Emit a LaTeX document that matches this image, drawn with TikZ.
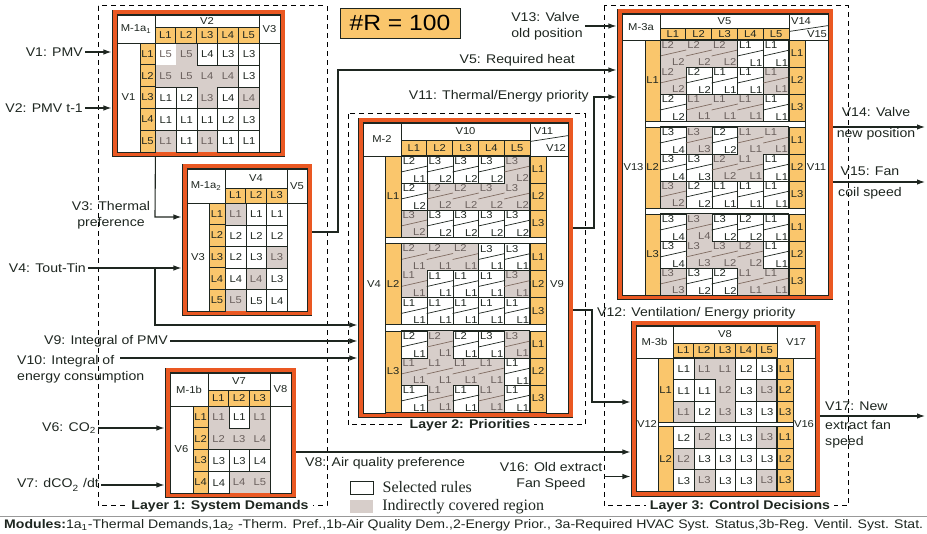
\documentclass[tikz,border=0pt]{standalone}
\usepackage{fontspec}
\setmainfont{Liberation Sans}[FakeStretch=1.12]
\newfontfamily\legendfont{Liberation Serif}
\usepackage{graphicx}
\usetikzlibrary{arrows.meta,positioning}

\pgfdeclarelayer{back}
\pgfdeclarelayer{frame}
\pgfdeclarelayer{cov}
\pgfsetlayers{back,frame,cov,main}

\definecolor{dk}{RGB}{30,38,32}
\definecolor{frameorg}{RGB}{234,88,34}
\definecolor{lvlorg}{RGB}{250,198,108}
\definecolor{covgray}{RGB}{215,206,202}
\definecolor{dimtxt}{RGB}{105,95,92}
\definecolor{covln}{RGB}{128,108,98}

\newcommand{\cellfont}{\fontsize{10}{11}\selectfont}
\newcommand{\labfont}{\fontsize{12.6}{16}\selectfont}

\newcommand{\boxat}[7]{%
  \node[#6, minimum width={(#4-(#2))*1pt}, minimum height={(#5-(#3))*1pt}]
    (#1) at ({(#2+#4)/2},{(#3+#5)/2}) {#7};}

\newcommand{\gcell}[7]{%
  \if#6c\begin{pgfonlayer}{cov}\fill[covgray] ({#2},{#3}) rectangle ++(#4,#5);\end{pgfonlayer}\fi
  \if#6s\node[selcell, minimum width=#4pt, minimum height=#5pt, anchor=north west] (#1) at ({#2},{#3}) {#7};%
  \else\node[dimcell, minimum width=#4pt, minimum height=#5pt, anchor=north west] (#1) at ({#2},{#3}) {#7};\fi}

\newcommand{\pcell}[6]{%
  \if#4c\begin{pgfonlayer}{cov}\fill[covgray] ({#2},{#3}) rectangle ++(25.8,27);\end{pgfonlayer}%
    \tikzset{pc/.style={dimcell}, pcd/.style={covdiag}}%
  \else\tikzset{pc/.style={selcell}, pcd/.style={seldiag}}\fi
  \node[pc, minimum width=25.8pt, minimum height=27pt, anchor=north west] (#1) at ({#2},{#3}) {};
  \draw[pcd] ([yshift=-16pt]#1.north west) -- ([yshift=-10pt]#1.north east);
  \node[pc, draw=none, fill=none, anchor=north west, inner sep=1.3pt] (#1u) at (#1.north west) {#5};
  \node[pc, draw=none, fill=none, anchor=south east, inner sep=1.3pt] (#1d) at (#1.south east) {#6};}

\begin{document}
\begin{tikzpicture}[x=1pt, y=-1pt,
  hdr/.style={draw=dk, fill=white, line width=0.9pt, inner sep=0pt, font=\cellfont, text=dk},
  lvl/.style={hdr, fill=lvlorg},
  selcell/.style={hdr},
  dimcell/.style={inner sep=0pt, font=\cellfont, text=dimtxt},
  seldiag/.style={draw=dk, line width=0.7pt},
  covdiag/.style={draw=covln, line width=0.7pt},
  grp/.style={draw=dk, line width=0.9pt},
  modframe/.style={draw=dk, line width=0.7pt, double=frameorg, double distance=4pt, fill=white, inner sep=0pt},
  layerbox/.style={draw=black, line width=1pt, dash pattern=on 5pt off 4pt},
  layerlbl/.style={fill=white, font=\bfseries\labfont, text=dk, inner xsep=4pt, inner ysep=0.5pt},
  lab/.style={font=\labfont, text=dk, inner sep=2pt},
  legtext/.style={font=\legendfont\fontsize{16}{18}\selectfont, text=dk, inner sep=2pt},
  rbox/.style={draw=dk, fill=lvlorg, line width=0.9pt, minimum width=120pt, minimum height=30pt,
               font=\fontsize{22}{24}\selectfont},
  arr/.style={draw=dk, line width=1.1pt, -{Latex[length=8pt, width=5.5pt]}},
  into/.style={shorten >=2.7pt}
]
\useasboundingbox (0,0) rectangle (927,534);

\begin{pgfonlayer}{frame}
  \node[modframe, minimum width=168pt, minimum height=142pt] (m1a1) at (198.5,83.5) {};
  \node[modframe, minimum width=125pt, minimum height=147pt] (m1a2) at (247,240) {};
  \node[modframe, minimum width=126pt, minimum height=125pt] (m1b) at (230.5,433) {};
  \node[modframe, minimum width=210pt, minimum height=295pt] (m2) at (465.5,268) {};
  \node[modframe, minimum width=211pt, minimum height=286pt] (m3a) at (725,154.5) {};
  \node[modframe, minimum width=184pt, minimum height=171pt] (m3b) at (725.5,409) {};
\end{pgfonlayer}

% M-1a1
\boxat{a1id}{117}{15}{155}{43}{hdr}{M-1a\textsubscript{1}}
\boxat{a1v2}{155}{15}{259}{27}{hdr}{V2}
\boxat{a1v3}{259}{15}{280}{43}{hdr}{V3}
\boxat{a1v1}{117}{43}{140}{152}{hdr}{V1}
\boxat{a1rt}{259}{43}{280}{152}{hdr}{}
\foreach \k in {1,...,5} {
  \boxat{a1h\k}{155+20.8*(\k-1)}{27}{155+20.8*\k}{43}{lvl}{L\k}
  \boxat{a1l\k}{140}{43+21.8*(\k-1)}{155}{43+21.8*\k}{lvl}{L\k}
}
\foreach \row [count=\r] in {{p/L5,c/L5,s/L4,s/L3,s/L3},{c/L5,c/L5,c/L4,c/L4,s/L3},
    {s/L1,s/L2,c/L3,s/L4,c/L4},{s/L1,s/L1,s/L1,s/L2,s/L3},{c/L1,s/L1,c/L1,s/L1,s/L1}} {
  \foreach \ty/\txt [count=\k] in \row {
    \gcell{a1c\r\k}{155+20.8*(\k-1)}{43+21.8*(\r-1)}{20.8}{21.8}{\ty}{\txt}
  }
}

% M-1a2
\boxat{a2id}{187}{169}{225}{203}{hdr}{M-1a\textsubscript{2}}
\boxat{a2v4}{225}{169}{287}{188}{hdr}{V4}
\boxat{a2v5}{287}{169}{307}{203}{hdr}{V5}
\boxat{a2v3}{187}{203}{209}{311}{hdr}{V3}
\boxat{a2rt}{287}{203}{307}{311}{hdr}{}
\foreach \k in {1,2,3} {\boxat{a2h\k}{225+20.67*(\k-1)}{188}{225+20.67*\k}{203}{lvl}{L\k}}
\foreach \k in {1,...,5} {\boxat{a2l\k}{209}{203+21.6*(\k-1)}{225}{203+21.6*\k}{lvl}{L\k}}
\foreach \row [count=\r] in {{c/L1,s/L1,s/L1},{s/L2,s/L2,s/L2},{s/L2,s/L3,c/L3},
    {s/L4,c/L4,s/L3},{c/L5,s/L5,s/L4}} {
  \foreach \ty/\txt [count=\k] in \row {
    \gcell{a2c\r\k}{225+20.67*(\k-1)}{203+21.6*(\r-1)}{20.67}{21.6}{\ty}{\txt}
  }
}

% M-1b
\boxat{bid}{170}{373}{208}{406}{hdr}{M-1b}
\boxat{bv7}{208}{373}{270}{390}{hdr}{V7}
\boxat{bv8}{270}{373}{291}{406}{hdr}{V8}
\boxat{bv6}{170}{406}{193}{493}{hdr}{V6}
\boxat{brt}{270}{406}{291}{493}{hdr}{}
\foreach \k in {1,2,3} {\boxat{bh\k}{208+20.67*(\k-1)}{390}{208+20.67*\k}{406}{lvl}{L\k}}
\foreach \k in {1,...,4} {\boxat{bl\k}{193}{406+21.75*(\k-1)}{208}{406+21.75*\k}{lvl}{L\k}}
\foreach \row [count=\r] in {{c/L1,s/L1,c/L1},{c/L2,c/L3,c/L4},{s/L3,s/L3,s/L4},{s/L4,c/L4,c/L5}} {
  \foreach \ty/\txt [count=\k] in \row {
    \gcell{bc\r\k}{208+20.67*(\k-1)}{406+21.75*(\r-1)}{20.67}{21.75}{\ty}{\txt}
  }
}

% M-2
\boxat{m2id}{363}{123}{401}{156}{hdr}{M-2}
\boxat{m2v10}{401}{123}{530}{140}{hdr}{V10}
\boxat{m2v11}{530}{123}{568}{156}{hdr}{}
\draw[seldiag] ([yshift=-19pt]m2v11.north west) -- ([yshift=-13pt]m2v11.north east);
\node[dimcell, text=dk] (m2v11a) at (543.5,131.5) {V11};
\node[dimcell, text=dk] (m2v12a) at (556,148) {V12};
\boxat{m2v4}{363}{156}{385}{413}{hdr}{V4}
\boxat{m2v9}{546}{156}{568}{413}{hdr}{V9}
\foreach \k in {1,...,5} {\boxat{m2h\k}{401+25.8*(\k-1)}{140}{401+25.8*\k}{156}{lvl}{L\k}}
\foreach \grp [count=\g] in {
   {{s/L2/L1,s/L3/L2,s/L3/L2,s/L3/L2,c/L3/L2},
    {s/L2/L2,c/L2/L2,c/L2/L2,c/L3/L2,c/L3/L2},
    {c/L3/L2,s/L3/L2,s/L3/L2,s/L3/L2,s/L3/L2}},
   {{c/L2/L1,c/L2/L1,c/L2/L1,s/L3/L1,s/L3/L1},
    {c/L1/L1,s/L1/L1,s/L1/L1,s/L1/L1,c/L3/L1},
    {s/L1/L1,s/L1/L1,s/L1/L1,s/L1/L1,s/L1/L1}},
   {{s/L2/L1,c/L2/L1,s/L2/L1,s/L3/L1,c/L3/L1},
    {c/L1/L1,c/L1/L1,c/L1/L1,c/L1/L1,s/L1/L1},
    {s/L1/L1,c/L1/L1,s/L1/L1,c/L1/L1,s/L1/L1}}} {
  \boxat{m2g\g}{385}{156+87.5*(\g-1)}{401}{237+87.5*(\g-1)}{lvl}{L\g}
  \foreach \row [count=\r] in \grp {
    \boxat{m2r\g\r}{530}{156+87.5*(\g-1)+27*(\r-1)}{546}{183+87.5*(\g-1)+27*(\r-1)}{lvl}{L\r}
    \foreach \ty/\up/\dn [count=\k] in \row {
      \pcell{m2c\g\r\k}{401+25.8*(\k-1)}{156+87.5*(\g-1)+27*(\r-1)}{\ty}{\up}{\dn}
    }
  }
  \draw[grp] (m2g\g.north east) rectangle (m2r\g3.south west);
}

% M-3a
\boxat{m3aid}{622}{14}{660}{40}{hdr}{M-3a}
\boxat{m3av5}{660}{14}{789}{28}{hdr}{V5}
\boxat{m3av14}{789}{14}{828}{40}{hdr}{}
\draw[seldiag] ([yshift=-18pt]m3av14.north west) -- ([yshift=-12pt]m3av14.north east);
\node[dimcell, text=dk] (m3av14a) at (801,21) {V14};
\node[dimcell, text=dk] (m3av15a) at (817,34) {V15};
\boxat{m3av13}{622}{40}{645}{295}{hdr}{V13}
\boxat{m3av11}{805}{40}{828}{295}{hdr}{V11}
\foreach \k in {1,...,5} {\boxat{m3ah\k}{660+25.8*(\k-1)}{28}{660+25.8*\k}{40}{lvl}{L\k}}
\foreach \grp [count=\g] in {
   {{c/L2/L2,c/L2/L2,c/L2/L2,s/L1/L1,s/L1/L1},
    {c/L2/L2,s/L2/L2,s/L1/L1,s/L1/L1,c/L1/L1},
    {s/L2/L2,c/L1/L1,c/L1/L1,c/L1/L1,s/L1/L1}},
   {{s/L3/L4,c/L3/L3,s/L2/L2,c/L1/L1,c/L1/L1},
    {s/L3/L4,s/L3/L3,c/L2/L2,c/L1/L1,s/L1/L1},
    {c/L3/L2,s/L2/L2,s/L1/L1,s/L1/L1,s/L1/L1}},
   {{s/L3/L4,c/L3/L4,s/L3/L2,s/L2/L2,s/L1/L1},
    {s/L3/L4,c/L3/L3,c/L3/L2,c/L2/L2,s/L1/L1},
    {c/L3/L3,s/L3/L2,s/L2/L2,c/L1/L1,c/L1/L1}}} {
  \boxat{m3ag\g}{645}{40+87*(\g-1)}{660}{121+87*(\g-1)}{lvl}{L\g}
  \foreach \row [count=\r] in \grp {
    \boxat{m3ar\g\r}{789}{40+87*(\g-1)+27*(\r-1)}{805}{67+87*(\g-1)+27*(\r-1)}{lvl}{L\r}
    \foreach \ty/\up/\dn [count=\k] in \row {
      \pcell{m3ac\g\r\k}{660+25.8*(\k-1)}{40+87*(\g-1)+27*(\r-1)}{\ty}{\up}{\dn}
    }
  }
  \draw[grp] (m3ag\g.north east) rectangle (m3ar\g3.south west);
}

% M-3b
\boxat{m3bid}{636}{326}{673}{358}{hdr}{M-3b}
\boxat{m3bv8}{673}{326}{777}{343}{hdr}{V8}
\boxat{m3bv17}{777}{326}{815}{358}{hdr}{V17}
\boxat{m3bv12}{636}{358}{658}{491}{hdr}{V12}
\boxat{m3bv16}{793}{358}{815}{491}{hdr}{V16}
\foreach \k in {1,...,5} {\boxat{m3bh\k}{673+20.8*(\k-1)}{343}{673+20.8*\k}{358}{lvl}{L\k}}
\foreach \grp [count=\g] in {
   {{s/L1,c/L1,c/L1,s/L2,s/L3},{s/L1,s/L1,c/L2,s/L3,c/L3},{c/L1,s/L2,c/L3,s/L3,s/L3}},
   {{s/L2,c/L2,s/L3,s/L3,c/L3},{c/L2,s/L3,s/L3,s/L3,s/L3},{s/L3,c/L3,s/L3,s/L3,c/L3}}} {
  \boxat{m3bg\g}{658}{358+68.5*(\g-1)}{673}{422.5+68.5*(\g-1)}{lvl}{L\g}
  \foreach \row [count=\r] in \grp {
    \boxat{m3br\g\r}{777}{358+68.5*(\g-1)+21.5*(\r-1)}{793}{379.5+68.5*(\g-1)+21.5*(\r-1)}{lvl}{L\r}
    \foreach \ty/\txt [count=\k] in \row {
      \gcell{m3bc\g\r\k}{673+20.8*(\k-1)}{358+68.5*(\g-1)+21.5*(\r-1)}{20.8}{21.5}{\ty}{\txt}
    }
  }
  \draw[grp] (m3bg\g.north east) rectangle (m3br\g3.south west);
}

% labels
\node[lab, anchor=east] (v1) at (85,52) {V1: PMV};
\node[lab, anchor=east] (v2) at (85,108) {V2: PMV t-1};
\node[lab, align=center] (v3) at (111,215) {V3: Thermal\\preference};
\node[lab, anchor=east] (v4) at (88,268) {V4: Tout-Tin};
\node[lab, anchor=east] (v9) at (170,341) {V9: Integral of PMV};
\node[lab, align=left, anchor=west] (v10) at (15,369) {V10: Integral of\\energy consumption};
\node[lab, anchor=east] (v6) at (98,428) {V6: CO\textsubscript{2}};
\node[lab, anchor=east] (v7) at (101,485) {V7: dCO\raisebox{-4pt}{\fontsize{9}{9}\selectfont 2}\hspace{5pt}/dt};
\node[lab, anchor=east] (v5) at (577,60) {V5: Required heat};
\node[lab, anchor=east] (v11) at (591,96) {V11: Thermal/Energy priority};
\node[lab, anchor=west] (v12) at (595,313) {V12: Ventilation/ Energy priority};
\node[lab, align=left] (v13) at (547,26) {V13: Valve\\old position};
\node[lab, anchor=west] (v8) at (303,463) {V8: Air quality preference};
\node[lab, align=center] (v16) at (551,476.5) {V16: Old extract\\Fan Speed};
\node[lab, align=center] (v14) at (876,124) {V14: Valve\\[5pt]new position};
\node[lab, align=center] (v15) at (870,182.5) {V15: Fan\\[5pt]coil speed};
\node[lab, align=left, anchor=west] (v17) at (823,424.5) {V17: New\\[3pt]extract fan\\speed};

\node[layerlbl] (lay1) at (220,506) {Layer 1: System Demands};
\node[layerlbl] (lay2) at (470,425) {Layer 2: Priorities};
\node[layerlbl] (lay3) at (740,506) {Layer 3: Control Decisions};
\node[rbox] (nrule) at (400,23) {\#R = 100};

\node[selcell, minimum width=23pt, minimum height=13pt] (legsel) at (361.5,487.5) {};
\node[legtext, right=7pt of legsel] (legselt) {Selected rules};
\node[fill=covgray, minimum width=23pt, minimum height=13pt] (legcov) at (361.5,506.5) {};
\node[legtext, right=7pt of legcov] (legcovt) {Indirectly covered region};

\draw[line width=0.8pt, black!40] (0,516.5) -- (927,516.5);
\node[anchor=west, inner sep=0pt, text=dk] (modcap) at (4,525) {\resizebox{919pt}{9pt}{\textbf{Modules:}1a\textsubscript{1}-Thermal Demands,1a\textsubscript{2} -Therm. Pref.,1b-Air Quality Dem.,2-Energy Prior., 3a-Required HVAC Syst. Status,3b-Reg. Ventil. Syst. Stat.}};

\begin{pgfonlayer}{back}
  \draw[layerbox] (98,6) rectangle (327,506);
  \draw[layerbox] (348,114) rectangle (585,425);
  \draw[layerbox] (604,6) rectangle (848,506);
  \coordinate (v3a) at (155,217);
  \coordinate (v4a) at (155,268);
  \coordinate (v4b) at (155,325);
  \coordinate (v10a) at (120,358);
  \coordinate (v5a) at (338,232);
  \coordinate (v5b) at (338,70);
  \coordinate (v8a) at (300,452);
  \coordinate (v11a) at (594,228);
  \coordinate (v11b) at (594,97);
  \coordinate (v12a) at (592,310);
  \coordinate (v12b) at (592,402);
  \coordinate (v14e) at (925,127);
  \coordinate (v15e) at (925,182);
  \coordinate (v17e) at (925,416);
  \draw[arr,into] (v1.east) -- (v1.east -| m1a1.west);
  \draw[arr,into] (v2.east) -- (v2.east -| m1a1.west);
  \draw[arr,into] (a1l5.south east) -- (v3a) -- (v3a -| m1a2.west);
  \draw[arr,into] (v4.east) -- (v4.east -| m1a2.west);
  \draw[arr,into] (v4a) -- (v4b) -- (v4b -| m2.west);
  \draw[arr,into] (v9.east) -- (v9.east -| m2.west);
  \draw[arr,into] (v10a) -- (v10a -| m2.west);
  \draw[arr,into] (v6.east) -- (v6.east -| m1b.west);
  \draw[arr,into] (v7.east) -- (v7.east -| m1b.west);
  \draw[arr,into] (m1a2.east |- v5a) -- (v5a) -- (v5b) -- (v5b -| m3a.west);
  \draw[arr,into] (v13.east) -- (v13.east -| m3a.west);
  \draw[arr,into] (m2.east |- v11a) -- (v11a) -- (v11b) -- (v11b -| m3a.west);
  \draw[arr,into] (m2.east |- v12a) -- (v12a) -- (v12b) -- (v12b -| m3b.west);
  \draw[arr,into] (m1b.east |- v8a) -- (v8a -| m3b.west);
  \draw[arr,into] (v16.east) -- (v16.east -| m3b.west);
  \draw[arr] (m3a.east |- v14e) -- (v14e);
  \draw[arr] (m3a.east |- v15e) -- (v15e);
  \draw[arr] (m3b.east |- v17e) -- (v17e);
\end{pgfonlayer}
\end{tikzpicture}
\end{document}
